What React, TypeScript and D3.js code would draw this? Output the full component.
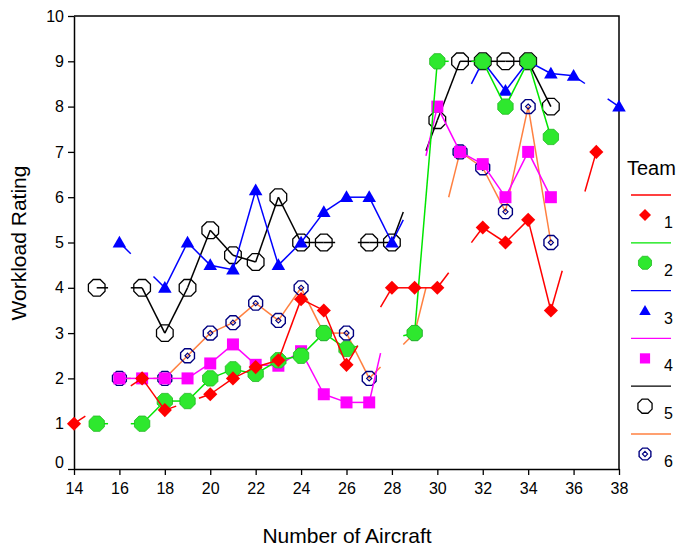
import React, { useEffect, useRef } from 'react';
import * as d3 from 'd3';

// number of aircraft (x) and the workload rating of each team, null = no rating
const aircraft = [14, 15, 16, 17, 18, 19, 20, 21, 22, 23, 24, 25, 26, 27, 28, 29, 30, 31, 32, 33, 34, 35, 36, 37, 38];
const team1 = [1, null, null, 2, 1.3, null, 1.65, 2, 2.25, 2.4, 3.75, 3.5, 2.3, null, 4, 4, 4, null, 5.33, 5, 5.5, 3.5, null, 7, null];
const team2 = [null, 1, null, 1, 1.5, 1.5, 2, 2.2, 2.1, 2.4, 2.5, 3, 2.65, null, null, 3, 9, null, 9, 8, 9, 7.33, null, null, null];
const team3 = [null, null, 5, null, 4, 5, 4.5, 4.4, 6.15, 4.5, 5, 5.67, 6, 6, 5, null, null, null, 9, 8.35, 9, 8.73, 8.68, null, 8];
const team4 = [null, null, 2, 2, 2, 2, 2.33, 2.75, 2.3, 2.28, 2.6, 1.65, 1.47, 1.47, null, null, 8, 7, 6.73, 6, 7, 6, null, null, null];
const team5 = [null, 4, null, 4, 3, 4, 5.27, 4.72, 4.57, 6, 5, 5, null, 5, 5, null, 7.7, 9, 9, 9, 9, 8, null, null, null];
const team6 = [null, null, 2, null, 2, 2.5, 3, 3.23, 3.66, 3.28, 4, 3, 3, 2, null, 3, null, 7, 6.65, 5.68, 8, 5, null, null, null];

const teamNames = ['1', '2', '3', '4', '5', '6'];
const lineColors = ['#ff0000', '#00e600', '#0000ff', '#ff00ff', '#000000', '#ff8040'];
const xTicks = [14, 16, 18, 20, 22, 24, 26, 28, 30, 32, 34, 36, 38];
const yTicks = [0, 1, 2, 3, 4, 5, 6, 7, 8, 9, 10];

const font = 'Liberation Sans, Arial, sans-serif';

const octagon = (r: number) => {
    const pts = d3.range(8).map(k => {
        const a = (Math.PI / 8) + k * Math.PI / 4;
        return [r * Math.cos(a), r * Math.sin(a)];
    });
    return 'M' + pts.map(p => p.join(',')).join('L') + 'Z';
};

// draws the symbol of team i into group g
const drawMarker = (g: any, i: number, s: number) => {
    if (i === 0) {
        g.append('path').attr('d', d3.symbol(d3.symbolSquare, 100 * s * s)())
            .attr('transform', 'rotate(45)').attr('fill', '#ff0000');
    } else if (i === 1) {
        g.append('path').attr('d', octagon(8.3 * s))
            .attr('fill', '#2ee82e').attr('stroke', '#22b822').attr('stroke-width', 0.8);
    } else if (i === 2) {
        g.append('path').attr('d', d3.symbol(d3.symbolTriangle, 80 * s * s)())
            .attr('transform', 'translate(0,1)').attr('fill', '#0000ff');
    } else if (i === 3) {
        g.append('path').attr('d', d3.symbol(d3.symbolSquare, 144 * s * s)()).attr('fill', '#ff00ff');
    } else if (i === 4) {
        g.append('path').attr('d', octagon(9 * s))
            .attr('fill', 'none').attr('stroke', '#000').attr('stroke-width', 1.3);
    } else {
        g.append('path').attr('d', octagon(7.5 * s))
            .attr('fill', 'none').attr('stroke', '#000080').attr('stroke-width', 1.4);
        g.append('path').attr('d', 'M0,-2.6L2.6,0L0,2.6L-2.6,0Z')
            .attr('fill', 'none').attr('stroke', '#000080').attr('stroke-width', 1.1);
    }
};

const App = () => {
    const ref = useRef<SVGSVGElement>(null);

    useEffect(() => {
        const svg = d3.select(ref.current);
        svg.selectAll('*').remove();

        const x = d3.scaleLinear().domain([14, 38]).range([74, 619]);
        const y = d3.scaleLinear().domain([0, 10]).range([469, 16]);
        const line = d3.line<number[]>().x(d => x(d[0])).y(d => y(d[1]));

        const teams = [team1, team2, team3, team4, team5, team6];

        // axes
        const xAxis = svg.append('g').attr('transform', 'translate(0,469)')
            .call(d3.axisBottom(x).tickValues(xTicks).tickSize(6).tickSizeOuter(0).tickPadding(8));
        const yAxis = svg.append('g').attr('transform', 'translate(74,0)')
            .call(d3.axisLeft(y).tickValues(yTicks).tickSize(6).tickSizeOuter(0).tickPadding(4));
        [xAxis, yAxis].forEach(a => {
            a.selectAll('path.domain').attr('stroke-width', 1.5);
            a.selectAll('.tick line').attr('stroke-width', 1.3);
            a.selectAll('text').attr('font-family', font).attr('font-size', 16).attr('fill', '#000');
        });
        yAxis.selectAll('.tick').filter((d: any) => d === 0).select('text').attr('dy', '-0.12em');

        // frame
        svg.append('path')
            .attr('d', `M${x(14)},${y(10)}H${x(38)}V${y(0)}`)
            .attr('fill', 'none').attr('stroke', '#000').attr('stroke-width', 1.5);

        // draw teams from 6 to 1 so that team 1 lies on top
        d3.range(5, -1, -1).forEach(i => {
            const pts = aircraft
                .map((a, k) => [a, teams[i][k]])
                .filter(p => p[1] !== null) as number[][];
            const g = svg.append('g');
            d3.pairs(pts).forEach(([a, b]) => {
                // across a missing value only a half-step stub is drawn at each end
                const segs = b[0] - a[0] === 1
                    ? [[a, b]]
                    : [[a, [a[0] + 0.5, a[1] + (b[1] - a[1]) * 0.5 / (b[0] - a[0])]],
                       [b, [b[0] - 0.5, b[1] - (b[1] - a[1]) * 0.5 / (b[0] - a[0])]]];
                segs.forEach(sg => {
                    g.append('path').attr('d', line(sg as number[][]))
                        .attr('fill', 'none').attr('stroke', lineColors[i]).attr('stroke-width', 1.5);
                });
            });
            pts.forEach(p => {
                const m = g.append('g').attr('transform', `translate(${x(p[0])},${y(p[1])})`);
                drawMarker(m, i, 1);
            });
        });

        // legend
        const legend = svg.append('g');
        legend.append('text').attr('x', 627).attr('y', 175)
            .attr('font-family', font).attr('font-size', 20).text('Team');
        teamNames.forEach((t, i) => {
            const y0 = 195 + i * 47.8;
            legend.append('line').attr('x1', 631).attr('x2', 671).attr('y1', y0).attr('y2', y0)
                .attr('stroke', lineColors[i]).attr('stroke-width', 1.3);
            const m = legend.append('g').attr('transform', `translate(645,${y0 + 20})`);
            drawMarker(m, i, 0.85);
            legend.append('text').attr('x', 664).attr('y', y0 + 33)
                .attr('font-family', font).attr('font-size', 16).text(t);
        });

        // axis titles
        svg.append('text').attr('x', 347).attr('y', 543).attr('text-anchor', 'middle')
            .attr('font-family', font).attr('font-size', 21).text('Number of Aircraft');
        svg.append('text').attr('transform', 'translate(26,243) rotate(-90)').attr('text-anchor', 'middle')
            .attr('font-family', font).attr('font-size', 21).text('Workload Rating');
    }, []);

    return (
        <svg ref={ref} width={679} height={546}
             style={{ position: 'absolute', left: 0, top: 0, background: '#fff' }} />
    );
};

export default App;
